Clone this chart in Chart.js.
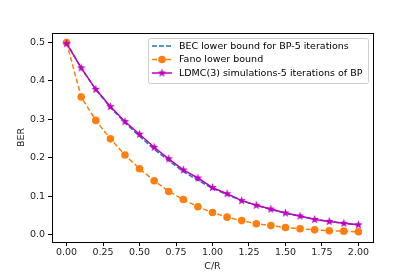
<!DOCTYPE html>
<html>
<head>
<meta charset="utf-8">
<script src="https://cdn.jsdelivr.net/npm/chart.js@4"></script>
<style>
  html, body { margin: 0; padding: 0; background: #fff; }
  #wrap { width: 415px; height: 277px; }
</style>
</head>
<body>
<div id="wrap"><canvas id="myChart" width="415" height="277"></canvas></div>
<script>
// C/R values
var cr = [0, 0.1, 0.2, 0.3, 0.4, 0.5, 0.6, 0.7, 0.8, 0.9, 1.0, 1.1, 1.2, 1.3, 1.4, 1.5, 1.6, 1.7, 1.8, 1.9, 2.0];
var becBound = [0.5, 0.433, 0.377, 0.331, 0.291, 0.256, 0.222, 0.192, 0.164, 0.141, 0.120, 0.104, 0.088, 0.076, 0.065, 0.055, 0.047, 0.040, 0.034, 0.029, 0.025];
var fanoBound = [0.5, 0.358, 0.297, 0.249, 0.207, 0.171, 0.140, 0.112, 0.091, 0.072, 0.057, 0.045, 0.036, 0.028, 0.023, 0.018, 0.015, 0.012, 0.0095, 0.0086, 0.007];
var ldmcSim = [0.497, 0.434, 0.378, 0.333, 0.294, 0.261, 0.227, 0.197, 0.168, 0.147, 0.122, 0.106, 0.088, 0.076, 0.066, 0.056, 0.048, 0.039, 0.034, 0.029, 0.025];
var xTicks = [0, 0.25, 0.5, 0.75, 1.0, 1.25, 1.5, 1.75, 2.0];
var yTicks = [0, 0.1, 0.2, 0.3, 0.4, 0.5];
var labels = ["BEC lower bound for BP-5 iterations", "Fano lower bound", "LDMC(3) simulations-5 iterations of BP"];

var blue = "#1f77b4";
var orange = "#ff7f0e";
var magenta = "#bf00bf";
var font = "DejaVu Sans";
var fontSize = 9.5;

function toPoints(ys) {
  return cr.map(function (x, i) { return { x: x, y: ys[i] }; });
}

// filled star marker like matplotlib '*'
function makeStar(r, color) {
  var c = document.createElement("canvas");
  c.width = 2 * r + 2;
  c.height = 2 * r + 2;
  var g = c.getContext("2d");
  g.translate(r + 1, r + 1);
  g.beginPath();
  for (var i = 0; i < 10; i++) {
    var rad = i % 2 === 0 ? r : r * 0.42;
    var a = -Math.PI / 2 + i * Math.PI / 5;
    g.lineTo(rad * Math.cos(a), rad * Math.sin(a));
  }
  g.closePath();
  g.fillStyle = color;
  g.fill();
  return c;
}
var star = makeStar(4.5, magenta);

var framePlugin = {
  id: "frame",
  afterDraw: function (chart) {
    var ctx = chart.ctx;
    var a = chart.chartArea;
    ctx.save();
    ctx.strokeStyle = "#000";
    ctx.lineWidth = 1;
    ctx.strokeRect(Math.round(a.left) + 0.5, Math.round(a.top) + 0.5, Math.round(a.right - a.left), Math.round(a.bottom - a.top));

    // legend box
    var bx = 148.5, by = 38.5, bw = 220, bh = 45;
    ctx.fillStyle = "rgba(255,255,255,0.8)";
    ctx.strokeStyle = "#cccccc";
    ctx.beginPath();
    ctx.roundRect(bx, by, bw, bh, 2);
    ctx.fill();
    ctx.stroke();

    var rows = [46, 59.5, 73];
    ctx.font = fontSize + "px '" + font + "'";
    ctx.textBaseline = "middle";
    ctx.fillStyle = "#000";
    for (var i = 0; i < 3; i++) {
      var y = rows[i];
      ctx.lineWidth = 1.5;
      if (i === 0) { ctx.strokeStyle = blue; ctx.setLineDash([5, 2]); }
      if (i === 1) { ctx.strokeStyle = orange; ctx.setLineDash([5, 2]); }
      if (i === 2) { ctx.strokeStyle = magenta; ctx.setLineDash([]); }
      ctx.beginPath();
      ctx.moveTo(152, y);
      ctx.lineTo(172, y);
      ctx.stroke();
      ctx.setLineDash([]);
      if (i === 1) {
        ctx.fillStyle = orange;
        ctx.beginPath();
        ctx.arc(162, y, 3.8, 0, Math.PI * 2);
        ctx.fill();
      }
      if (i === 2) {
        ctx.drawImage(star, 162 - star.width / 2, y - star.height / 2);
      }
      ctx.fillStyle = "#000";
      ctx.fillText(labels[i], 179, y + 0.5);
    }
    ctx.restore();
  }
};

var ctx = document.getElementById("myChart");
var myChart = new Chart(ctx, {
  type: "line",
  data: {
    datasets: [
      {
        label: labels[0],
        data: toPoints(becBound),
        borderColor: blue,
        borderWidth: 1.5,
        borderDash: [5, 2],
        pointRadius: 0,
        fill: false,
        order: 3,
      },
      {
        label: labels[1],
        data: toPoints(fanoBound),
        borderColor: orange,
        backgroundColor: orange,
        borderWidth: 1.5,
        borderDash: [5, 2.5],
        pointRadius: 3.8,
        pointBorderWidth: 0,
        pointBackgroundColor: orange,
        fill: false,
        order: 2,
      },
      {
        label: labels[2],
        data: toPoints(ldmcSim),
        borderColor: magenta,
        backgroundColor: magenta,
        borderWidth: 1.5,
        pointStyle: star,
        pointRadius: 4.5,
        fill: false,
        order: 1,
      },
    ],
  },
  options: {
    responsive: false,
    animation: false,
    events: [],
    layout: { padding: { top: 33, right: 42, left: 0, bottom: 0 } },
    plugins: {
      legend: { display: false },
      tooltip: { enabled: false },
    },
    scales: {
      x: {
        type: "linear",
        min: -0.1,
        max: 2.1,
        afterBuildTicks: function (scale) {
          scale.ticks = xTicks.map(function (v) { return { value: v }; });
        },
        afterFit: function (scale) { scale.height = 35; },
        grid: { display: true, drawOnChartArea: false, drawTicks: true, tickLength: 4, color: "#000" },
        border: { display: true, color: "#000" },
        ticks: {
          color: "#222",
          padding: 1,
          maxRotation: 0,
          font: { family: font, size: fontSize },
          callback: function (v) { return v.toFixed(2); },
        },
        title: { display: true, text: "C/R", color: "#222", font: { family: font, size: fontSize }, padding: { top: 0, bottom: 5 } },
      },
      y: {
        type: "linear",
        min: -0.0197,
        max: 0.5247,
        afterBuildTicks: function (scale) {
          scale.ticks = yTicks.map(function (v) { return { value: v }; });
        },
        afterFit: function (scale) { scale.width = 52; },
        grid: { display: true, drawOnChartArea: false, drawTicks: true, tickLength: 4, color: "#000" },
        border: { display: true, color: "#000" },
        ticks: {
          color: "#222",
          padding: 3,
          font: { family: font, size: fontSize },
          callback: function (v) { return v.toFixed(1); },
        },
        title: { display: true, text: "BER", color: "#222", font: { family: font, size: fontSize }, padding: { top: 16, bottom: 0 } },
      },
    },
  },
  plugins: [framePlugin],
});
</script>
</body>
</html>
